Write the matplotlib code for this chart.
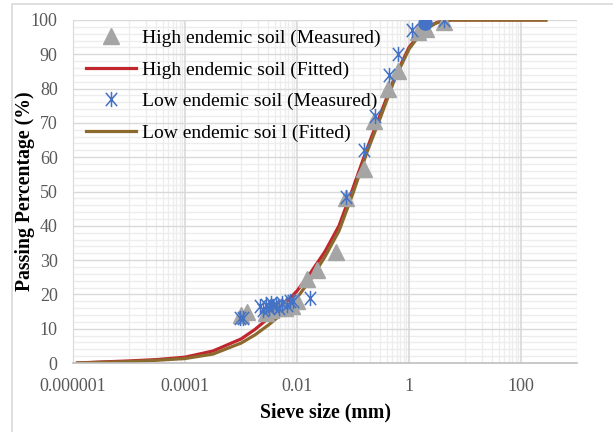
import numpy as np
import matplotlib
matplotlib.use("Agg")
import matplotlib.pyplot as plt
from matplotlib.path import Path
from matplotlib.patches import Rectangle

plt.rcParams['font.family'] = ['Liberation Serif', 'DejaVu Serif']

# measured points, high endemic soil
high_x = [0.00098, 0.0013, 0.0028, 0.0035, 0.0045, 0.006, 0.008, 0.010,
          0.0148, 0.0224, 0.049, 0.074, 0.155, 0.24, 0.42, 0.63, 1.45, 2.0, 4.2]
high_y = [14.0, 15.0, 14.5, 15.5, 16.0, 16.0, 16.5, 18.0,
          24.5, 27.0, 32.5, 48.0, 56.5, 70.5, 80.0, 85.0, 96.5, 97.5, 99.5]

# measured points, low endemic soil
low_x = [0.00095, 0.0011, 0.0022, 0.0025, 0.0028, 0.0031, 0.0034, 0.0037,
         0.0042, 0.0048, 0.0055, 0.0065, 0.0075, 0.0085, 0.0174,
         0.074, 0.155, 0.25, 0.44, 0.63, 1.15, 4.2]
low_y = [13.0, 13.0, 16.5, 15.5, 17.0, 16.0, 17.5, 16.5,
         17.0, 16.0, 17.5, 17.0, 18.0, 18.0, 19.0,
         48.5, 62.0, 72.0, 84.0, 90.0, 97.0, 100.0]

# extra point (blue dot at the top)
dot_x = [1.95]
dot_y = [99.2]

# fitted curves
fit_x = [1.2e-6, 3.16e-6, 1e-5, 3.16e-5, 1e-4, 3.16e-4, 1e-3, 1.78e-3, 3.16e-3,
         5.62e-3, 1e-2, 1.78e-2, 3.16e-2, 5.62e-2, 0.1, 0.178, 0.316, 0.562,
         1.0, 1.78, 3.16, 5.62, 10, 100, 277]
high_fit = [0.0, 0.3, 0.6, 1.0, 1.7, 3.5, 7.0, 9.8, 13.2, 16.8, 21.0, 26.5, 32.5,
            40.0, 51.0, 62.5, 73.0, 83.5, 92.0, 97.2, 99.3, 100, 100, 100, 100]
low_fit = [0.0, 0.2, 0.4, 0.8, 1.3, 2.6, 5.8, 8.2, 11.2, 14.6, 19.0, 24.5, 31.0,
           38.5, 49.5, 61.5, 72.0, 83.0, 91.5, 97.0, 99.2, 100, 100, 100, 100]

grey_txt = '#595959'
star = Path([(-0.85, -1), (0.85, 1), (-0.85, 1), (0.85, -1), (0, -1.15), (0, 1.15)],
            [Path.MOVETO, Path.LINETO, Path.MOVETO, Path.LINETO, Path.MOVETO, Path.LINETO])

fig = plt.figure(figsize=(6.13, 4.32), dpi=100)
ax = fig.add_axes([73/613, 69/432, 504/613, 343/432])

# chart area border (cropped Excel chart)
fig.patches.append(Rectangle((12/613, -0.1), 1.2, 1.1 - 4/432, transform=fig.transFigure,
                             fill=False, edgecolor='#D9D9D9', lw=1.2, zorder=0))

ax.set_xscale('log')
ax.set_xlim(1e-6, 1000)
ax.set_ylim(0, 100)

# grid like excel log base 100
major_x = [1e-6, 1e-4, 1e-2, 1, 100]
minor_x = [k * 10.0**e for e in (-5, -3, -1, 1) for k in range(1, 10)] + [1000]
for v in minor_x:
    ax.axvline(v, color='#EDEDED', lw=1, zorder=0)
for v in range(2, 100, 2):
    if v % 10:
        ax.axhline(v, color='#EDEDED', lw=1, zorder=0)
for v in range(10, 101, 10):
    ax.axhline(v, color='#D9D9D9', lw=1, zorder=0.5)
for v in major_x:
    ax.axvline(v, color='#D9D9D9', lw=1.2, zorder=0.5)

ax.plot(fit_x, high_fit, color='#C0262B', lw=2.3, zorder=2, label='High endemic soil (Fitted)')
ax.plot(fit_x, low_fit, color='#8C6A2E', lw=2.3, zorder=2.1, label='Low endemic soi l (Fitted)')
ax.plot(high_x, high_y, ls='none', marker='^', ms=11, color='#A5A5A5', zorder=3,
        label='High endemic soil (Measured)')
ax.plot(low_x, low_y, ls='none', marker=star, ms=11, mfc='none', mec='#4472C4', mew=1.1,
        zorder=4, label='Low endemic soil (Measured)')
ax.plot(dot_x, dot_y, ls='none', marker='o', ms=9.5, color='#4472C4', zorder=4)

ax.set_xticks(major_x)
ax.set_xticklabels(['0.000001', '0.0001', '0.01', '1', '100'])
ax.xaxis.set_minor_locator(matplotlib.ticker.NullLocator())
ax.set_yticks(range(0, 101, 10))
ax.tick_params(length=0, labelsize=13, colors=grey_txt)
ax.tick_params(axis='y', pad=11)
ax.tick_params(axis='x', pad=11)
for s in ['top', 'right']:
    ax.spines[s].set_visible(False)
ax.spines['left'].set_color('#D9D9D9')
ax.spines['bottom'].set_color('#BFBFBF')
ax.spines['bottom'].set_linewidth(1.2)

ax.set_xlabel('Sieve size (mm)', fontsize=14.2, fontweight='bold', labelpad=5)
ax.set_ylabel('Passing Percentage (%)', fontsize=14.2, fontweight='bold', labelpad=-3)

h, l = ax.get_legend_handles_labels()
order = [2, 0, 3, 1]
ax.legend([h[i] for i in order], [l[i] for i in order], loc='upper left',
          bbox_to_anchor=(0.0, 1.01), frameon=False, fontsize=14,
          handlelength=2.6, handletextpad=0.3, labelspacing=0.72, borderaxespad=0.25)

fig.savefig('out.png', dpi=100)
